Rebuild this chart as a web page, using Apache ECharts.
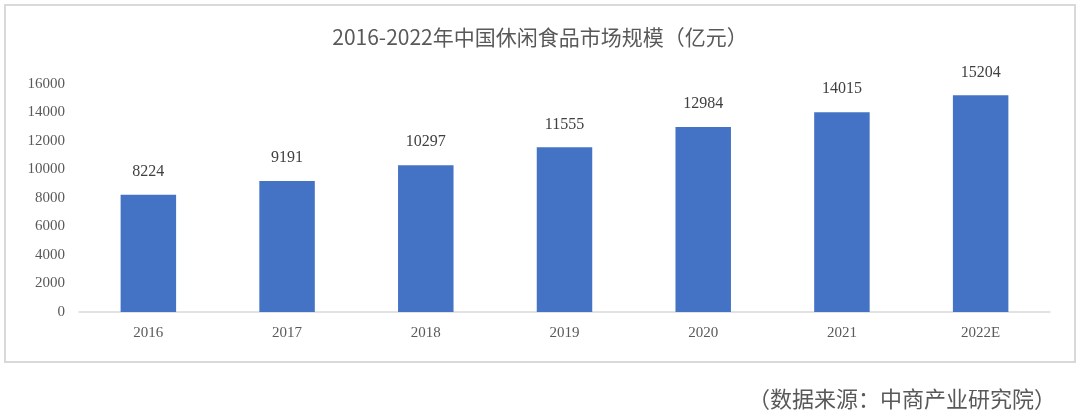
<!DOCTYPE html>
<html><head><meta charset="utf-8">
<script src="https://cdn.jsdelivr.net/npm/echarts@6/dist/echarts.min.js"></script>
<style>html,body{margin:0;padding:0;background:#fff}#c{width:1080px;height:417px}</style>
</head><body><div id="c"></div>
<script>
const categories = ['2016','2017','2018','2019','2020','2021','2022E'];
const values = [8224, 9191, 10297, 11555, 12984, 14015, 15204];
const yTicks = {min: 0, max: 16000, interval: 2000};
const titleText = '2016-2022年中国休闲食品市场规模（亿元）';
const sourceText = '（数据来源：中商产业研究院）';

const fontFam = '"Liberation Serif","Noto Sans CJK SC",serif';
const chart = echarts.init(document.getElementById('c'));
chart.setOption({
  animation: false,
  title: {text: titleText, left: 'center', top: 22,
    textStyle: {fontSize: 21, fontWeight: 'normal', color: '#595959', fontFamily: '"Noto Sans CJK SC",sans-serif'}},
  grid: {left: 79, right: 30, top: 84, bottom: 105, containLabel: false},
  xAxis: {type: 'category', data: categories,
    axisLine: {lineStyle: {color: '#D9D9D9', width: 1.5}},
    axisTick: {show: false},
    axisLabel: {color: '#595959', fontSize: 15, margin: 14, fontFamily: fontFam}},
  yAxis: {type: 'value', min: yTicks.min, max: yTicks.max, interval: yTicks.interval,
    axisLine: {show: false}, axisTick: {show: false}, splitLine: {show: false},
    axisLabel: {color: '#595959', fontSize: 15, margin: 14, fontFamily: fontFam,
      formatter: v => String(v)}},
  series: [{type: 'bar', data: values, barWidth: '40%',
    itemStyle: {color: '#4472C4'},
    label: {show: true, position: 'top', distance: 15, color: '#404040', fontSize: 16, fontFamily: fontFam}}],
  graphic: [
    {type: 'rect', shape: {x: 5, y: 5, width: 1070, height: 357},
     style: {fill: 'none', stroke: '#D9D9D9', lineWidth: 2}, silent: true},
    {type: 'text', right: 24, top: 388,
     style: {text: sourceText, fill: '#595959', fontSize: 22, fontFamily: '"Noto Sans CJK SC",sans-serif'}}
  ]
});
</script></body></html>
